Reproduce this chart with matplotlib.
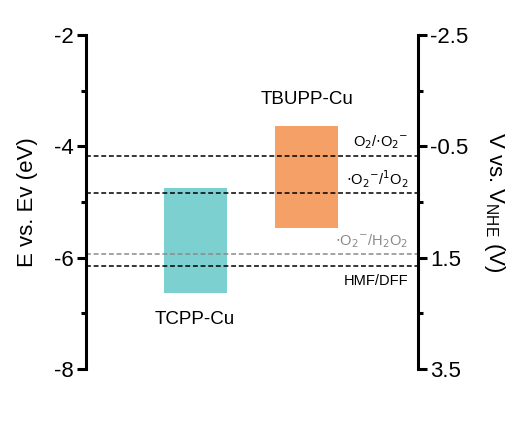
import matplotlib
matplotlib.use("Agg")
import matplotlib.pyplot as plt

plt.rcParams['font.family'] = ['Liberation Sans', 'DejaVu Sans']

categories = ["TCPP-Cu", "TBUPP-Cu"]
cb_top = [-4.75, -3.63]
vb_bottom = [-6.64, -5.47]
bar_colors = ["#7dd0d0", "#f4a067"]

level_names = [r"O$_2$/$\cdot$O$_2$$^{-}$", r"$\cdot$O$_2$$^{-}$/$^1$O$_2$",
               r"$\cdot$O$_2$$^{-}$/H$_2$O$_2$", "HMF/DFF"]
level_values = [-4.17, -4.84, -5.94, -6.16]
level_colors = ["black", "black", "#8a8a8a", "black"]
level_label_y = [-3.92, -4.60, -5.71, -6.43]

left_ticks = [-2, -4, -6, -8]
right_ticklabels = ["-2.5", "-0.5", "1.5", "3.5"]

fig = plt.figure(figsize=(5.08, 4.25), dpi=100)
ax = fig.add_axes([0.169, 0.132, 0.654, 0.786])

x = list(range(len(categories)))
heights = [t - b for t, b in zip(cb_top, vb_bottom)]
ax.bar(x, heights, bottom=vb_bottom, width=0.565, color=bar_colors, zorder=1)

for v, c in zip(level_values, level_colors):
    ax.axhline(v, color=c, lw=1.1, ls=(0, (3.2, 1.8)), zorder=2)

for name, c, yl in zip(level_names, level_colors, level_label_y):
    ax.text(1.91, yl, name, color=c, fontsize=10.5, ha='right', va='center')

ax.text(x[1], cb_top[1] + 0.47, categories[1], fontsize=13.5, ha='center', va='center')
ax.text(x[0], vb_bottom[0] - 0.48, categories[0], fontsize=13.5, ha='center', va='center')

ax.set_xlim(-0.98, 2.0)
ax.set_ylim(-8, -2)
ax.set_xticks([])
ax.set_yticks(left_ticks)
ax.set_yticklabels([str(t) for t in left_ticks])
ax.set_yticks([-3, -5, -7], minor=True)
ax.spines['top'].set_visible(False)
ax.spines['bottom'].set_visible(False)
ax.spines['left'].set_linewidth(2.2)
ax.spines['right'].set_visible(False)
ax.tick_params(axis='y', which='major', length=6.5, width=2.2, labelsize=16, pad=2)
ax.tick_params(axis='y', which='minor', length=3.5, width=2.2)
ax.set_ylabel("E vs. Ev (eV)", fontsize=16, labelpad=12)

ax2 = ax.twinx()
ax2.set_ylim(-8, -2)
ax2.set_yticks(left_ticks)
ax2.set_yticklabels(right_ticklabels)
ax2.set_yticks([-3, -5, -7], minor=True)
for s in ['top', 'bottom', 'left']:
    ax2.spines[s].set_visible(False)
ax2.spines['right'].set_linewidth(2.2)
ax2.tick_params(axis='y', which='major', length=6.5, width=2.2, labelsize=16, pad=2)
ax2.tick_params(axis='y', which='minor', length=3.5, width=2.2)
ax2.set_ylabel(r"V vs. V$_{\mathregular{NHE}}$ (V)", fontsize=16, rotation=270, labelpad=28)

fig.savefig("out.png", dpi=100)
